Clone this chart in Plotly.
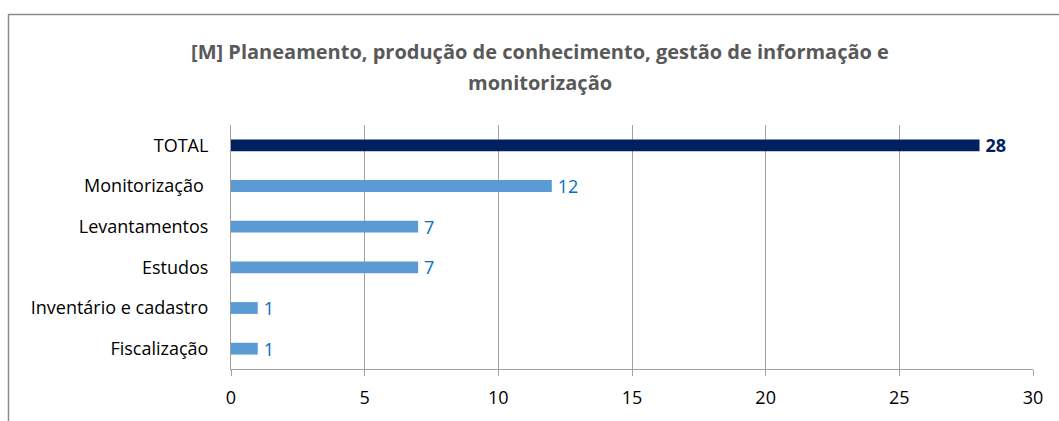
import plotly.graph_objects as go

categories = ["TOTAL", "Monitorização ", "Levantamentos", "Estudos", "Inventário e cadastro", "Fiscalização"]
values = [28, 12, 7, 7, 1, 1]
tick_vals = [0, 5, 10, 15, 20, 25, 30]
title_lines = ["[M] Planeamento, produção de conhecimento, gestão de informação e", "monitorização"]

W, H = 1059, 421
L, R, T, B = 231, 26, 125, 50
pw, ph = W - L - R, H - T - B

bar_colors = ["#002060" if c == "TOTAL" else "#5b9bd5" for c in categories]
text_colors = ["#002060" if c == "TOTAL" else "#0070c0" for c in categories]
labels = ["\u2009" + (f"<b>{v}</b>" if c == "TOTAL" else str(v)) for c, v in zip(categories, values)]

fig = go.Figure(go.Bar(
    x=values, y=categories, orientation="h",
    marker=dict(color=bar_colors, line=dict(width=0)),
    width=0.29,
    text=labels, textposition="outside", constraintext="none",
    textfont=dict(color=text_colors, size=18, family="Open Sans"),
    cliponaxis=False,
))

def px_x(p):
    return (p - L) / pw

def px_y(p):
    return (H - B - p) / ph

title_font = dict(family="Open Sans", size=20, color="#595959", weight="bold")

fig.update_layout(
    width=W, height=H,
    margin=dict(l=L, r=R, t=T, b=B),
    paper_bgcolor="white", plot_bgcolor="white",
    showlegend=False,
    font=dict(family="Open Sans", size=18, color="#000000"),
    title=dict(text=title_lines[0], x=540 / W, xanchor="center", y=1 - 52 / H, yanchor="middle",
               font=title_font),
    annotations=[dict(text=title_lines[1], xref="paper", yref="paper", x=px_x(540), y=px_y(82),
                      xanchor="center", yanchor="middle", showarrow=False, font=title_font)],
    xaxis=dict(range=[0, 30], tickvals=tick_vals, showgrid=True, gridcolor="#a0a0a0", gridwidth=1,
               zeroline=False, showline=True, linecolor="#a0a0a0", ticks="outside", ticklen=6,
               tickcolor="#a0a0a0", tickfont=dict(size=18), ticklabelstandoff=6),
    yaxis=dict(categoryorder="array", categoryarray=categories, autorange="reversed",
               showgrid=False, showline=True, linecolor="#a0a0a0", ticks="", ticklabelstandoff=18,
               tickfont=dict(size=18)),
    shapes=[
        dict(type="line", xref="paper", yref="paper", x0=px_x(8), x1=px_x(1060), y0=px_y(13.5), y1=px_y(13.5),
             line=dict(color="#8c8c8c", width=1.5)),
        dict(type="line", xref="paper", yref="paper", x0=px_x(8.5), x1=px_x(8.5), y0=px_y(13), y1=px_y(425),
             line=dict(color="#8c8c8c", width=1.5)),
    ],
)

fig.write_html("out.html", config={"displayModeBar": False},
               post_script="document.body.style.margin='0';document.body.style.padding='0';")
